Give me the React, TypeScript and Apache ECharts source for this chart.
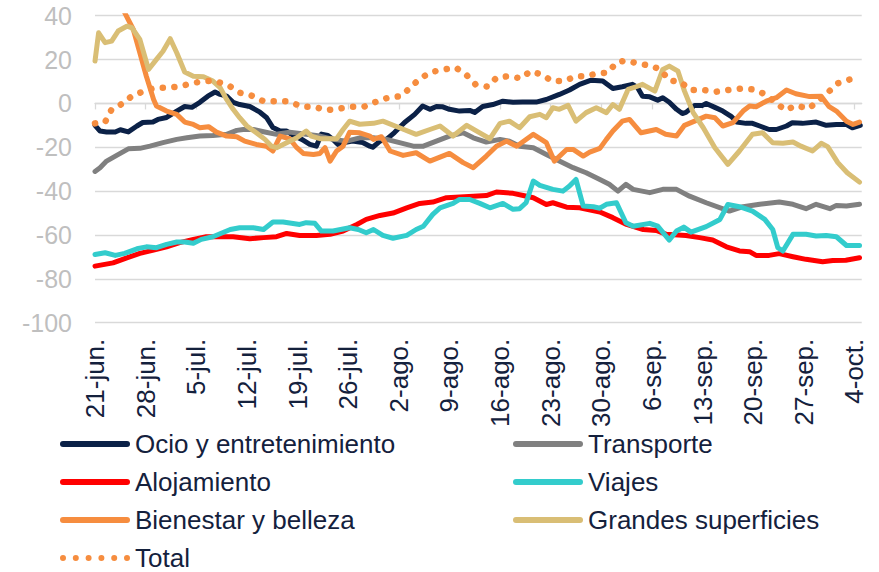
import React, { useEffect, useRef } from "react";
import * as echarts from "echarts";

// Tick labels (one per week, starting 21-jun.)
const xTickLabels = [
  "21-jun.", "28-jun.", "5-jul.", "12-jul.", "19-jul.", "26-jul.", "2-ago.", "9-ago.",
  "16-ago.", "23-ago.", "30-ago.", "6-sep.", "13-sep.", "20-sep.", "27-sep.", "4-oct.",
];
const tickDays = xTickLabels.map((_, i) => i * 7);

// [days since 21-jun, value]
const ocio = [
  [0,-10],[0.7,-12.6],[1.6,-13],[2.8,-13],[3.5,-12],[4.6,-13],[5.8,-10.3],[6.6,-8.7],[8,-8.5],[8.7,-7.3],
  [9.9,-6.4],[11.3,-3.5],[12.4,-1.4],[13.4,-1.8],[14.5,0.5],[15.6,3.3],[16.6,5.2],[17.3,4.1],[18.2,3.3],[19.1,0.5],
  [20,-0.5],[21.4,-1.4],[22.8,-4],[23.7,-6.4],[24.6,-11],[25.6,-12.6],[26.5,-12.6],[27.4,-14.6],[28.6,-16.4],[29.7,-18.7],
  [30.6,-19.5],[31.3,-14],[32.2,-14.6],[32.9,-16.4],[33.6,-18.7],[34.5,-17.8],[35.6,-17.2],[37,-17.8],[38,-19.5],[38.4,-20],
  [39.4,-17.2],[40.3,-16.4],[41.4,-13.3],[42.8,-8.7],[44.2,-5],[45.3,-1.2],[46.3,-2.7],[47.2,-1.4],[48,-1.5],[49,-2.7],
  [50.4,-3.5],[51.8,-3.2],[52.5,-4.1],[53.6,-1.4],[55,-0.5],[56.4,1],[57.8,0.5],[59.1,0.6],[61,0.6],[62.4,1.8],
  [64.2,4.1],[65.6,6.1],[67,8.7],[68.6,10.6],[70.2,10.2],[71.6,6.8],[72.9,7.6],[74.3,8.7],[75,7.3],[75.7,3.3],
  [76.7,3],[77.8,1.5],[78.5,2.6],[79.4,0.5],[80.4,-2.7],[81.2,-4.6],[81.7,-4.1],[82.9,-0.9],[84,-0.9],[84.5,0],
  [85.7,-1.8],[86.8,-3.5],[88,-6],[88.7,-8.5],[90,-9.1],[90.9,-9.1],[91.9,-10.3],[93.2,-11.9],[94.2,-11.9],[95.6,-10.3],
  [96.4,-8.8],[97.8,-9.1],[99.7,-8.5],[101.1,-10],[102.5,-9.6],[103.9,-9.6],[104.7,-11.1],[105.8,-10],
];

const transporte = [
  [0,-31],[0.7,-29.3],[1.6,-26.3],[3,-23.7],[4.6,-20.7],[6.2,-20.5],[7.6,-19.5],[9.4,-17.9],[11.3,-16.4],[12.7,-15.7],
  [14.5,-14.9],[16.3,-14.6],[18.2,-14.1],[19.6,-12.3],[20.5,-11.9],[21.9,-11.9],[23.3,-12.9],[25.1,-14.1],[26.9,-13.1],[29.2,-14.1],
  [31.1,-14.9],[32.9,-16.4],[34.8,-17.2],[36.6,-15.7],[38.5,-15.7],[40.3,-16.4],[42.1,-17.9],[44,-19.5],[45.4,-19.5],[47.2,-17.2],
  [49,-14.9],[50.9,-13.4],[52.3,-15.7],[54.1,-17.6],[56,-16.4],[57.3,-17.2],[58.7,-19.5],[60.6,-20.2],[62.4,-23.3],[64.2,-26.3],
  [66.1,-29.3],[67.9,-31.6],[69.8,-34.7],[71.1,-36.9],[72.3,-40],[73.4,-36.9],[74.4,-39.2],[76.7,-40.7],[78.5,-39.2],[80.4,-39.2],
  [82.2,-42.3],[84.5,-45.3],[87.7,-49.1],[89.6,-47.1],[91.9,-46],[94.6,-45],[96.5,-46],[98.3,-48],[99.7,-46],[101.6,-48],
  [102.5,-46.5],[103.9,-46.8],[105.7,-46],
];

const alojamiento = [
  [0,-74.2],[2.5,-72.7],[4.4,-70.4],[6.2,-68.4],[8.1,-66.9],[9.9,-65.4],[11.7,-63.5],[13.6,-62],[15.4,-60.8],[19.1,-60.8],
  [21.4,-61.7],[23.3,-61.2],[25.1,-60.8],[26.5,-59.3],[28.3,-60.2],[30.6,-60.2],[32.5,-59.7],[34.3,-58.2],[36.2,-55.2],[37.5,-52.9],
  [39.4,-51.1],[41.2,-50],[43.1,-47.6],[44.9,-45.6],[46.7,-45],[48.6,-43],[52.3,-42.3],[54.1,-42],[55.5,-40.4],[57.8,-41],
  [59.2,-42],[60.6,-43],[62.4,-46.1],[63.3,-45.3],[65.2,-47.3],[67,-47.6],[69.8,-49.5],[71.6,-52.1],[73.5,-55.2],[75.8,-57.5],
  [77.6,-57.9],[79,-59.7],[81.7,-60.2],[83.6,-61.2],[85.4,-62.3],[87.3,-65.4],[89.1,-67.3],[90.5,-67.6],[91.4,-69.3],[93.2,-69.3],
  [94.6,-68.5],[96.5,-69.9],[98.3,-71.1],[100.6,-72.2],[102,-71.6],[103.8,-71.5],[105.7,-70.4],
];

const viajes = [
  [0,-68.9],[1.4,-68.1],[2.8,-69.3],[4.1,-68.4],[5.8,-66.3],[7.1,-65.4],[8.5,-65.8],[9.9,-64.3],[11.3,-63.2],[12.4,-63.2],
  [13.6,-63.8],[14.7,-62],[16.3,-60.8],[18.7,-57.5],[20,-56.7],[21.9,-56.7],[23.3,-57.5],[24.6,-54.1],[26,-54.1],[28.3,-55.2],
  [29.2,-54.4],[30.4,-54.7],[31.3,-58.2],[32.9,-58.2],[35.2,-56.7],[36.4,-57.5],[37.5,-59],[38.5,-57.5],[39.8,-60.2],[41.2,-61.5],
  [43.1,-60.2],[44.4,-57.5],[45.4,-56],[46.7,-50.6],[47.7,-47.6],[49.5,-45.6],[50.4,-43.8],[51.8,-43.8],[53.2,-45.6],[54.6,-47.6],
  [56.4,-45.6],[57.8,-48.3],[58.7,-48],[59.6,-45.3],[60.6,-35.4],[61.5,-37.4],[63.3,-39.2],[64.7,-40],[65.6,-37.7],[66.5,-34.7],
  [67.5,-46.8],[68.9,-47.1],[69.8,-47.8],[70.7,-46],[72.1,-45.3],[73.4,-54.4],[74.4,-56],[76.7,-54.7],[77.8,-56],[79.4,-62.3],
  [80.4,-58.2],[81.4,-56.4],[82.4,-58.7],[84.5,-56.2],[86.4,-52.9],[87.5,-46.1],[89.1,-47.1],[90.9,-49.1],[92.6,-52.9],[93.7,-57.5],
  [94.4,-65.8],[95.1,-67.3],[96.5,-59.7],[98.3,-59.7],[99.7,-60.5],[101.1,-60.2],[102.5,-60.8],[103.9,-64.8],[105.7,-64.8],
];

const bienestar = [
  [0,62],[2,53],[3.5,46],[4.1,41.4],[5.3,33.7],[6.2,23.1],[7.1,12.4],[8.1,1.8],[8.5,-1.2],[9.9,-3.5],
  [11.3,-5],[12.4,-8.5],[13.6,-9.6],[14.5,-11.1],[15.7,-10.6],[16.8,-13.1],[18.2,-14.9],[19.6,-15.2],[20.7,-17.2],[22.3,-18.7],
  [23.7,-19.5],[24.6,-21.7],[25.6,-14.9],[26.9,-16.1],[27.9,-20.2],[28.8,-22.8],[30.2,-23.3],[31.1,-22.8],[31.8,-20.2],[32.5,-26.3],
  [33.4,-21.7],[34.3,-19.5],[35.2,-13.2],[36.6,-13.4],[38,-14.9],[38.5,-16.4],[39.6,-15.2],[40.8,-21.7],[42.6,-23.7],[44.4,-22.5],
  [46.3,-26.3],[49,-22.8],[50.9,-27],[52.3,-29.3],[54.1,-24],[55.5,-19.5],[56.9,-17.2],[58.3,-19.5],[60.6,-14.1],[62.4,-17.9],
  [63.5,-26.3],[65.2,-21],[66.1,-21],[67.5,-24],[68.4,-22.2],[69.8,-20.5],[70.7,-16.4],[71.6,-12.6],[72.9,-8.1],[73.9,-7.3],
  [75.5,-13.4],[77.6,-11.9],[78.9,-14.1],[80.4,-14.9],[81.5,-10],[82.9,-8.1],[84.5,-5.8],[85.7,-6.5],[86.8,-10.3],[88.2,-8.8],
  [89.6,-3.5],[90.5,-1.2],[91.4,-1.5],[92.8,1],[94.2,2.6],[95.6,6.1],[96.9,4.4],[98.8,3.1],[100.4,3.3],[101.5,-1.5],
  [102.5,-3.5],[103.9,-8.1],[104.8,-9.6],[105.7,-8.5],
];

const grandes = [
  [0,19.3],[0.5,32.2],[1.4,27.7],[2.3,28.4],[3.2,33],[4.4,35.2],[5.1,34.5],[6.2,29.2],[7.4,15.5],[8.5,20.1],
  [9.4,23.8],[10.4,29.5],[11.3,23.1],[12.4,14.3],[13.6,12.4],[15,12.2],[16.3,10.2],[17.3,7.2],[18.2,1.8],[19.1,-2.7],
  [20,-6.5],[21,-10.3],[22.3,-13.4],[23.5,-16.4],[24.4,-19.5],[25.1,-20.2],[26.5,-17.9],[27.9,-15.7],[29.2,-12.6],[29.9,-14.9],
  [31.1,-16.1],[33.4,-16.1],[34.3,-11.9],[35.2,-8.1],[36.6,-9.5],[38.5,-9.1],[39.8,-8.1],[42.1,-11.1],[44.4,-14.1],[46.3,-11.9],
  [47.7,-10.3],[49.5,-14.9],[51.4,-10],[53.2,-13.4],[54.6,-16.1],[56,-9.1],[57.3,-8.1],[58.7,-11.1],[60.1,-6.1],[61.5,-5],
  [62.4,-6.5],[63.3,-2],[64.2,-2.7],[65.4,-0.9],[66.5,-8.1],[67.9,-4.2],[69.3,-2],[70.7,-4.2],[71.6,-0.5],[72.5,-2.7],
  [73.7,6.4],[74.8,7.6],[75.7,8.7],[77.4,5.6],[78.5,15.5],[79.4,17],[80.6,14.7],[81.5,5.6],[82.7,-4.2],[84.1,-11.1],
  [85.7,-20.2],[87.5,-27.8],[89.1,-21.7],[90.9,-14.1],[92.3,-13.4],[93.7,-17.9],[95.1,-18.2],[96.5,-17.6],[97.6,-19.5],[99.2,-21.7],
  [100.4,-18.2],[101.3,-19.7],[102.7,-27],[104,-31.6],[105.7,-35.9],
];

const total = [
  [0,-9.1],[1.4,-8.5],[2.3,-2.7],[3.8,-0.1],[5.2,3.6],[6.8,5.6],[8.4,7.2],[9.9,7.2],[11.5,7.6],[13.3,9.1],
  [15,10.2],[16.7,10.2],[18.6,7.9],[20,4.9],[21.6,3.6],[23.3,1],[25,1],[26.7,1],[28.6,-1.5],[30.3,-1.5],
  [31.9,-3.1],[33.6,-2.4],[35.5,-1.5],[37.2,-1.5],[38.9,0.8],[40.5,2.6],[42.3,3.3],[43.6,7.2],[44.9,11.3],[46.5,14.3],
  [48.2,15.5],[49.9,16.3],[51.4,12.8],[52.6,8.7],[54.3,7.6],[55.5,11.7],[57.1,12.4],[58.9,11.4],[60.2,14.7],[61.7,13.2],
  [63.2,10.2],[64.9,10.2],[66.5,12.4],[67.9,12.4],[69.4,13.7],[70.9,14],[72.1,18.6],[73.4,19.6],[75.1,18.1],[76.8,17.3],
  [78.3,15.2],[79.3,10.6],[81,9.7],[82.3,6.1],[84.1,6.1],[85.8,5.3],[87.5,6.1],[89.2,6.7],[91,6.4],[92.7,4.1],
  [94.1,0.3],[95.5,-3.1],[96.9,-0.9],[98.6,-2.4],[100,1],[101.4,5.2],[102.6,9.1],[104.3,10.9],[105.2,11.2],
];

const FONT = 'Arial, "Liberation Sans", sans-serif';
const NAVY_TEXT = "#14213D";
const SOLID_ICON = "path://M3 0H67A3 3 0 0 1 67 6H3A3 3 0 0 1 3 0Z";
const DOT_ICON =
  "path://" +
  [0, 1, 2, 3, 4, 5]
    .map((i) => {
      const cx = 3 + i * 12.8;
      return `M${cx - 3} 3a3 3 0 1 0 6 0a3 3 0 1 0 -6 0Z`;
    })
    .join("");

const seriesDefs = [
  { name: "Ocio y entretenimiento", data: ocio, color: "#0B2147" },
  { name: "Transporte", data: transporte, color: "#808080" },
  { name: "Alojamiento", data: alojamiento, color: "#FF0000" },
  { name: "Viajes", data: viajes, color: "#33CCCC" },
  { name: "Bienestar y belleza", data: bienestar, color: "#F68D3F" },
  { name: "Grandes superficies", data: grandes, color: "#D9BE75" },
  { name: "Total", data: total, color: "#F68D3F", dotted: true },
];

export default function App() {
  const ref = useRef<HTMLDivElement>(null);

  useEffect(() => {
    if (!ref.current) return;
    const chart = echarts.init(ref.current, null, { renderer: "svg" });

    const legendCommon = {
      orient: "vertical",
      itemWidth: 70,
      itemHeight: 6,
      itemGap: 12,
      padding: 0,
      height: 170,
      selectedMode: false,
      itemStyle: { borderWidth: 0 },
      textStyle: { color: NAVY_TEXT, fontSize: 26, fontFamily: FONT, lineHeight: 26 },
    };

    const option: any = {
      animation: false,
      backgroundColor: "#ffffff",
      grid: { left: 95, right: 17.3, top: 15.7, bottom: 249.3, containLabel: false, outerBoundsMode: "none" },
      legend: [
        {
          ...legendCommon,
          left: 60,
          top: 431,
          data: [
            { name: "Ocio y entretenimiento", icon: SOLID_ICON },
            { name: "Alojamiento", icon: SOLID_ICON },
            { name: "Bienestar y belleza", icon: SOLID_ICON },
            { name: "Total", icon: DOT_ICON },
          ],
        },
        {
          ...legendCommon,
          left: 513,
          top: 431,
          data: [
            { name: "Transporte", icon: SOLID_ICON },
            { name: "Viajes", icon: SOLID_ICON },
            { name: "Grandes superficies", icon: SOLID_ICON },
          ],
        },
      ],
      xAxis: [
        {
          type: "value",
          min: 0,
          max: 106,
          interval: 7,
          position: "bottom",
          axisLine: { show: false, onZero: false },
          axisTick: { show: false },
          splitLine: { show: false },
          axisLabel: {
            customValues: tickDays,
            rotate: 90,
            margin: 16,
            color: NAVY_TEXT,
            fontSize: 26,
            fontFamily: FONT,
            showMaxLabel: true,
            formatter: (v: number) => (v % 7 === 0 ? xTickLabels[Math.round(v / 7)] ?? "" : ""),
          },
        },
        {
          type: "value",
          min: 0,
          max: 106,
          interval: 7,
          position: "top",
          axisLine: { show: true, onZero: true, lineStyle: { color: "#D9D9D9", width: 1.3 } },
          axisTick: {
            show: true,
            inside: true,
            length: 6,
            customValues: tickDays,
            lineStyle: { color: "#D9D9D9", width: 1.3 },
          },
          axisLabel: { show: false },
          splitLine: { show: false },
        },
      ],
      yAxis: {
        type: "value",
        min: -100,
        max: 40,
        interval: 20,
        axisLine: { show: false },
        axisTick: { show: false },
        axisLabel: { color: "#BFBFBF", fontSize: 25, fontFamily: FONT, margin: 23 },
        splitLine: { lineStyle: { color: "#D9D9D9", width: 1.3 } },
      },
      series: seriesDefs.map((s) => ({
        type: "line",
        name: s.name,
        data: s.data,
        xAxisIndex: 0,
        showSymbol: false,
        symbol: "none",
        silent: true,
        clip: true,
        color: s.color,
        emphasis: { disabled: true },
        lineStyle: s.dotted
          ? { color: s.color, width: 6.5, type: [0.1, 11.5], cap: "round", join: "round" }
          : { color: s.color, width: 5, cap: "round", join: "round" },
      })),
    };

    chart.setOption(option);
    return () => chart.dispose();
  }, []);

  return (
    <div
      ref={ref}
      style={{ position: "fixed", left: 0, top: 0, width: 879, height: 572, background: "#fff" }}
    />
  );
}
